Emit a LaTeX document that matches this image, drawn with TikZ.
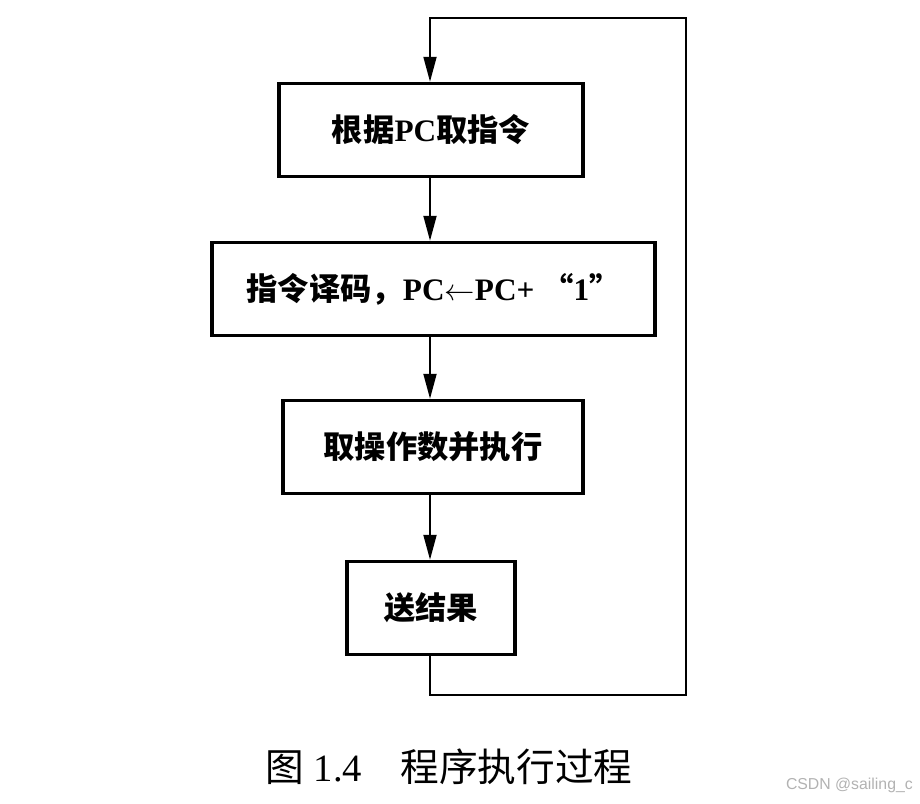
\documentclass[tikz,border=0pt]{standalone}
\usepackage{fontspec}
\setmainfont{Liberation Serif}
\newfontfamily\cjk{Noto Sans CJK SC}
\newfontfamily\wmfont{Liberation Sans}
\usetikzlibrary{arrows.meta}
\newcommand{\zh}[1]{{\cjk #1}}
\begin{document}
\begin{tikzpicture}[x=0.02cm,y=-0.02cm,
  stepbox/.style={draw,line width=2pt,minimum height=1.86cm,inner sep=0pt,font=\fontsize{17.8}{20}\selectfont\bfseries},
  flow/.style={line width=1.1pt,-{Triangle[length=5mm,width=2.6mm]}}]
\useasboundingbox (0,0) rectangle (920,804);
\coordinate (col) at (430,0);
\foreach \nm/\cx/\cy/\w/\lab in {%
  b1/431/130/6.08/{\zh{根据}PC\zh{取指令}},
  b2/433.5/289/8.86/{\zh{指令译码，}PC$\leftarrow$PC+ \zh{“}1\zh{”}},
  b3/433/447/6.00/{\zh{取操作数并执行}},
  b4/431/608/3.36/{\zh{送结果}}}{
  \node[stepbox,minimum width=\w cm] (\nm) at (\cx,\cy) {\lab};}
\foreach \a/\b in {b1/b2,b2/b3,b3/b4}
  \draw[flow] (\a.south -| col) -- (\b.north -| col);
% back to the first step
\coordinate (lr) at (686,695);
\coordinate (lt) at (686,18);
\draw[flow] (b4.south -| col) |- (lr) -- (lt) -| (b1.north -| col);
\node[font=\fontsize{22}{26}\selectfont] (cap) at (449,767) {\zh{图} 1.4\quad\zh{程序执行过程}};
\node[font=\wmfont\fontsize{9}{11}\selectfont,text=gray!60,anchor=east] (wm) at (919,785) {CSDN @sailing\_c};
\end{tikzpicture}
\end{document}
